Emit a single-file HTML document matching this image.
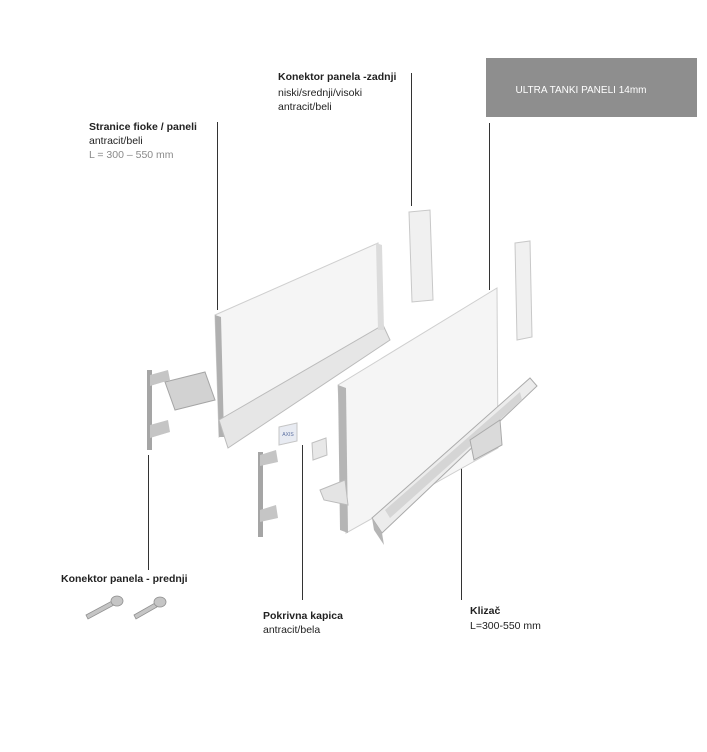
<!DOCTYPE html>
<html><head><meta charset="utf-8"><style>
html,body{margin:0;padding:0;background:#fff;}
svg{display:block;font-family:"Liberation Sans","DejaVu Sans",sans-serif;}
</style></head><body>
<svg width="707" height="752" viewBox="0 0 707 752" xmlns="http://www.w3.org/2000/svg">
<rect width="707" height="752" fill="#fff"/>
<rect x="486" y="58" width="211" height="59" fill="#8e8e8e"/>
<text x="581" y="93" font-size="10" fill="#fff" text-anchor="middle">ULTRA TANKI PANELI 14mm</text>

<g stroke="#333" stroke-width="1">
<line x1="217.5" y1="122" x2="217.5" y2="310"/>
<line x1="411.5" y1="73" x2="411.5" y2="206"/>
<line x1="489.5" y1="123" x2="489.5" y2="290"/>
<line x1="148.5" y1="455" x2="148.5" y2="570"/>
<line x1="302.5" y1="445" x2="302.5" y2="600"/>
<line x1="461.5" y1="466" x2="461.5" y2="600"/>
</g>

<polygon points="215,315 378,243 382,330 219,437" fill="#f5f5f5" stroke="#cfcfcf"/>
<polygon points="215,315 221,317 224,437 219,437" fill="#b0b0b0"/>
<polygon points="219,420 383,325 390,340 228,448" fill="#e6e6e6" stroke="#bbb"/>
<polygon points="376,243 382,245 384,330 378,330" fill="#dcdcdc"/>
<polygon points="409,212 430,210 433,300 412,302" fill="#f0f0f0" stroke="#c8c8c8"/>
<polygon points="515,243 530,241 532,337 517,340" fill="#f0f0f0" stroke="#c8c8c8"/>
<polygon points="338,385 497,288 498,448 346,533" fill="#f5f5f5" stroke="#cfcfcf"/>
<polygon points="338,385 346,388 348,533 340,530" fill="#b5b5b5"/>
<polygon points="320,490 345,480 348,505 324,500" fill="#e4e4e4" stroke="#bbb"/>
<polygon points="372,518 530,378 537,386 382,533" fill="#ececec" stroke="#aaa"/>
<polygon points="372,518 382,533 384,545 374,530" fill="#b5b5b5"/>
<polygon points="385,510 520,392 522,400 390,518" fill="#d5d5d5"/>
<polygon points="470,440 500,420 502,445 474,460" fill="#dadada" stroke="#aaa"/>
<polygon points="279,427 297,423 297,441 279,445" fill="#e8ebf2" stroke="#c5c5c5"/>
<text x="288" y="436" font-size="5" fill="#5a6ea0" text-anchor="middle">AXIS</text>
<polygon points="312,443 326,438 327,455 313,460" fill="#e8e8e8" stroke="#c0c0c0"/>
<rect x="147" y="370" width="5" height="80" fill="#a5a5a5"/>
<polygon points="150,375 168,370 170,380 150,386" fill="#c5c5c5"/>
<polygon points="150,425 168,420 170,432 150,438" fill="#c5c5c5"/>
<polygon points="165,382 205,372 215,400 175,410" fill="#d2d2d2" stroke="#a5a5a5"/>
<rect x="258" y="452" width="5" height="85" fill="#a5a5a5"/>
<polygon points="260,455 276,450 278,462 260,466" fill="#c5c5c5"/>
<polygon points="260,510 276,505 278,518 260,522" fill="#c5c5c5"/>
<g fill="#c5c5c5" stroke="#909090" stroke-width="0.8">
<polygon points="86,615 112,601 114,605 88,619"/>
<ellipse cx="117" cy="601" rx="6" ry="5"/>
<polygon points="134,615 155,603 157,607 136,619"/>
<ellipse cx="160" cy="602" rx="6" ry="5"/>
</g>

<g font-size="10.5" fill="#222">
<text x="278" y="80" font-weight="bold">Konektor panela -zadnji</text>
<text x="278" y="96">niski/srednji/visoki</text>
<text x="278" y="110">antracit/beli</text>
<text x="89" y="130" font-weight="bold">Stranice fioke / paneli</text>
<text x="89" y="144">antracit/beli</text>
<text x="89" y="158" fill="#8a8a8a">L = 300 – 550 mm</text>
<text x="61" y="582" font-weight="bold">Konektor panela - prednji</text>
<text x="263" y="619" font-weight="bold">Pokrivna kapica</text>
<text x="263" y="633">antracit/bela</text>
<text x="470" y="614" font-weight="bold">Klizač</text>
<text x="470" y="629">L=300-550 mm</text>
</g>
</svg>
</body></html>
